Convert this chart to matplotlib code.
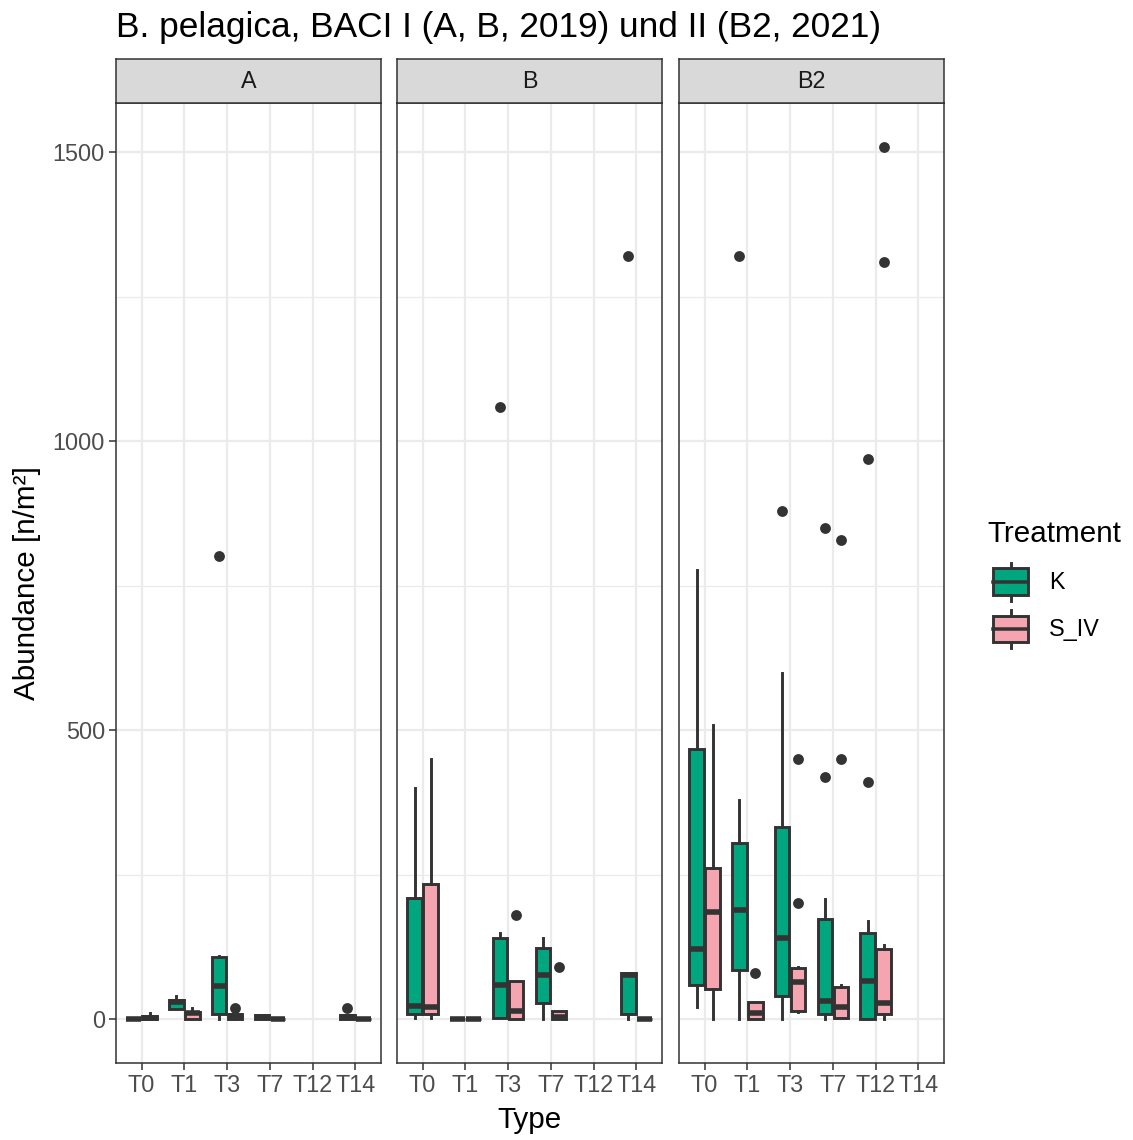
import matplotlib
matplotlib.use("Agg")
import matplotlib.pyplot as plt
from matplotlib.patches import Rectangle
from matplotlib.lines import Line2D
from matplotlib.legend_handler import HandlerBase

plt.rcParams['font.family'] = ['Liberation Sans', 'DejaVu Sans']

facets = ["A", "B", "B2"]
times = ["T0", "T1", "T3", "T7", "T12", "T14"]
treatments = ["K", "S_IV"]
fill_colors = ["#00A67E", "#F4A5AF"]

# per time point: [whisker low, q1, median, q3, whisker high], None = not sampled
A_K = [[0, 0, 0, 0, 0], [18, 18, 30, 33, 40], [1, 9, 58, 108, 109],
       [0, 0, 4, 8, 8], None, [0, 0, 4, 8, 8]]
A_S = [[0, 0, 2, 6, 11], [0, 0, 11, 13, 19], [0, 0, 5, 9, 9],
       [0, 0, 0, 0, 0], None, [0, 0, 0, 0, 0]]
B_K = [[2, 10, 23, 210, 400], [0, 0, 0, 0, 0], [3, 3, 60, 141, 150],
       [1, 28, 76, 123, 140], None, [1, 10, 76, 81, 81]]
B_S = [[2, 10, 22, 235, 450], [0, 0, 0, 0, 0], [0, 0, 15, 67, 67],
       [0, 0, 4, 15, 15], None, [0, 0, 0, 0, 0]]
B2_K = [[22, 60, 122, 467, 778], [0, 85, 190, 305, 379], [0, 41, 141, 333, 599],
        [0, 10, 31, 173, 209], [0, 0, 66, 150, 170], None]
B2_S = [[1, 53, 186, 262, 509], [0, 0, 11, 30, 30], [12, 15, 65, 89, 90],
        [2, 2, 22, 56, 59], [0, 10, 29, 122, 129], None]

# outliers
A_K_out = [[], [], [801], [], [], [20]]
A_S_out = [[], [], [20], [], [], []]
B_K_out = [[], [], [1059], [], [], [1320]]
B_S_out = [[], [], [181], [91], [], []]
B2_K_out = [[], [1320], [880], [419, 850], [411, 970], []]
B2_S_out = [[], [81], [201, 450], [450, 830], [1310, 1510], []]

panel_stats = {"A": (A_K, A_S), "B": (B_K, B_S), "B2": (B2_K, B2_S)}
panel_out = {"A": (A_K_out, A_S_out), "B": (B_K_out, B_S_out), "B2": (B2_K_out, B2_S_out)}

edge = "#333333"
grid_col = "#EBEBEB"
lw_box = 2.1
lw_med = 4.0
box_w = 0.3375
offsets = [-0.1875, 0.1875]

fs_tick = 16.8
fs_axis = 21.3
fs_title = 25.4

W, H = 1133, 1140
fig = plt.figure(figsize=(W / 100, H / 100), dpi=100)

# y range with 5% expansion like ggplot
all_vals = [v for f in facets for grp in panel_stats[f] for s in grp if s for v in s]
all_vals += [v for f in facets for grp in panel_out[f] for o in grp for v in o]
ymin, ymax = min(all_vals), max(all_vals)
pad = 0.05 * (ymax - ymin)

lefts = [116, 397, 679]
pw = 265
ptop, pbot = 103, 1063
strip_h = 44


def draw_group(ax, stats, outs, off, color):
    bstats, pos = [], []
    for i, (s, o) in enumerate(zip(stats, outs)):
        if s is None:
            continue
        lo, q1, med, q3, hi = s
        bstats.append(dict(whislo=lo, q1=q1, med=med, q3=q3, whishi=hi, fliers=o))
        pos.append(i + 1 + off)
    ax.bxp(bstats, positions=pos, widths=box_w, patch_artist=True,
           showcaps=False, manage_ticks=False,
           boxprops=dict(facecolor=color, edgecolor=edge, linewidth=lw_box),
           medianprops=dict(color=edge, linewidth=lw_med, solid_capstyle='butt'),
           whiskerprops=dict(color=edge, linewidth=lw_box),
           flierprops=dict(marker='o', markerfacecolor=edge, markeredgecolor='none',
                           markersize=7.8), zorder=3)


for k, (f, left) in enumerate(zip(facets, lefts)):
    ax = fig.add_axes([left / W, (H - pbot) / H, pw / W, (pbot - ptop) / H])
    ax.set_xlim(0.4, len(times) + 0.6)
    ax.set_ylim(ymin - pad, ymax + pad)
    ax.set_yticks([0, 500, 1000, 1500])
    ax.set_yticks([250, 750, 1250], minor=True)
    ax.set_xticks(range(1, len(times) + 1))
    ax.set_xticklabels(times)
    ax.grid(True, which='major', color=grid_col, linewidth=1.6, zorder=0)
    ax.grid(True, which='minor', axis='y', color=grid_col, linewidth=0.9, zorder=0)
    ax.set_axisbelow(True)
    for sp in ax.spines.values():
        sp.set_color(edge)
        sp.set_linewidth(1.1)
    ax.tick_params(which='major', length=4.8, width=1.1, color=edge,
                   labelsize=fs_tick, labelcolor="#4D4D4D", pad=3.2)
    ax.tick_params(which='minor', length=0)
    if k > 0:
        ax.tick_params(axis='y', which='major', length=0, labelleft=False)

    for grp, outs, off, col in zip(panel_stats[f], panel_out[f], offsets, fill_colors):
        draw_group(ax, grp, outs, off, col)

    # facet strip
    sax = fig.add_axes([left / W, (H - ptop) / H, pw / W, strip_h / H])
    sax.set_facecolor("#D9D9D9")
    sax.set_xticks([])
    sax.set_yticks([])
    for sp in sax.spines.values():
        sp.set_color(edge)
        sp.set_linewidth(1.1)
    sax.text(0.5, 0.5, f, transform=sax.transAxes, ha='center', va='center',
             fontsize=fs_tick, color="#1A1A1A")

fig.text(116 / W, (H - 37) / H, "B. pelagica, BACI I (A, B, 2019) und II (B2, 2021)",
         fontsize=fs_title, ha='left', va='baseline', color='black')
fig.text(27 / W, (H - 583) / H, "Abundance [n/m²]", rotation=90, fontsize=fs_axis,
         ha='center', va='center')
fig.text(530 / W, (H - 1120) / H, "Type", fontsize=fs_axis, ha='center', va='center')


class BoxKey(HandlerBase):
    def create_artists(self, legend, orig_handle, xdescent, ydescent, width, height,
                       fontsize, trans):
        x0, y0 = -xdescent, -ydescent
        rect = Rectangle((x0 + 0.125 * width, y0 + 0.22 * height), 0.75 * width,
                         0.56 * height, facecolor=orig_handle.get_facecolor(),
                         edgecolor=edge, linewidth=lw_box, transform=trans)
        xm = x0 + 0.5 * width
        med = Line2D([x0 + 0.125 * width, x0 + 0.875 * width], [y0 + 0.5 * height] * 2,
                     color=edge, linewidth=lw_box * 1.2, transform=trans)
        wlo = Line2D([xm, xm], [y0 + 0.1 * height, y0 + 0.22 * height],
                     color=edge, linewidth=lw_box, transform=trans)
        whi = Line2D([xm, xm], [y0 + 0.78 * height, y0 + 0.9 * height],
                     color=edge, linewidth=lw_box, transform=trans)
        return [wlo, whi, rect, med]


handles = [Rectangle((0, 0), 1, 1, facecolor=c) for c in fill_colors]
leg = fig.legend(handles, treatments, title="Treatment", loc='upper left',
                 bbox_to_anchor=(987 / W, (H - 520) / H), frameon=False,
                 fontsize=fs_tick, title_fontsize=fs_axis, borderpad=0, borderaxespad=0,
                 handlelength=2.03, handleheight=2.75, labelspacing=0.0,
                 handletextpad=0.62, alignment='left',
                 handler_map={Rectangle: BoxKey()})
leg._legend_box.sep = 7.2

fig.savefig("out.png", dpi=100, facecolor='white')
